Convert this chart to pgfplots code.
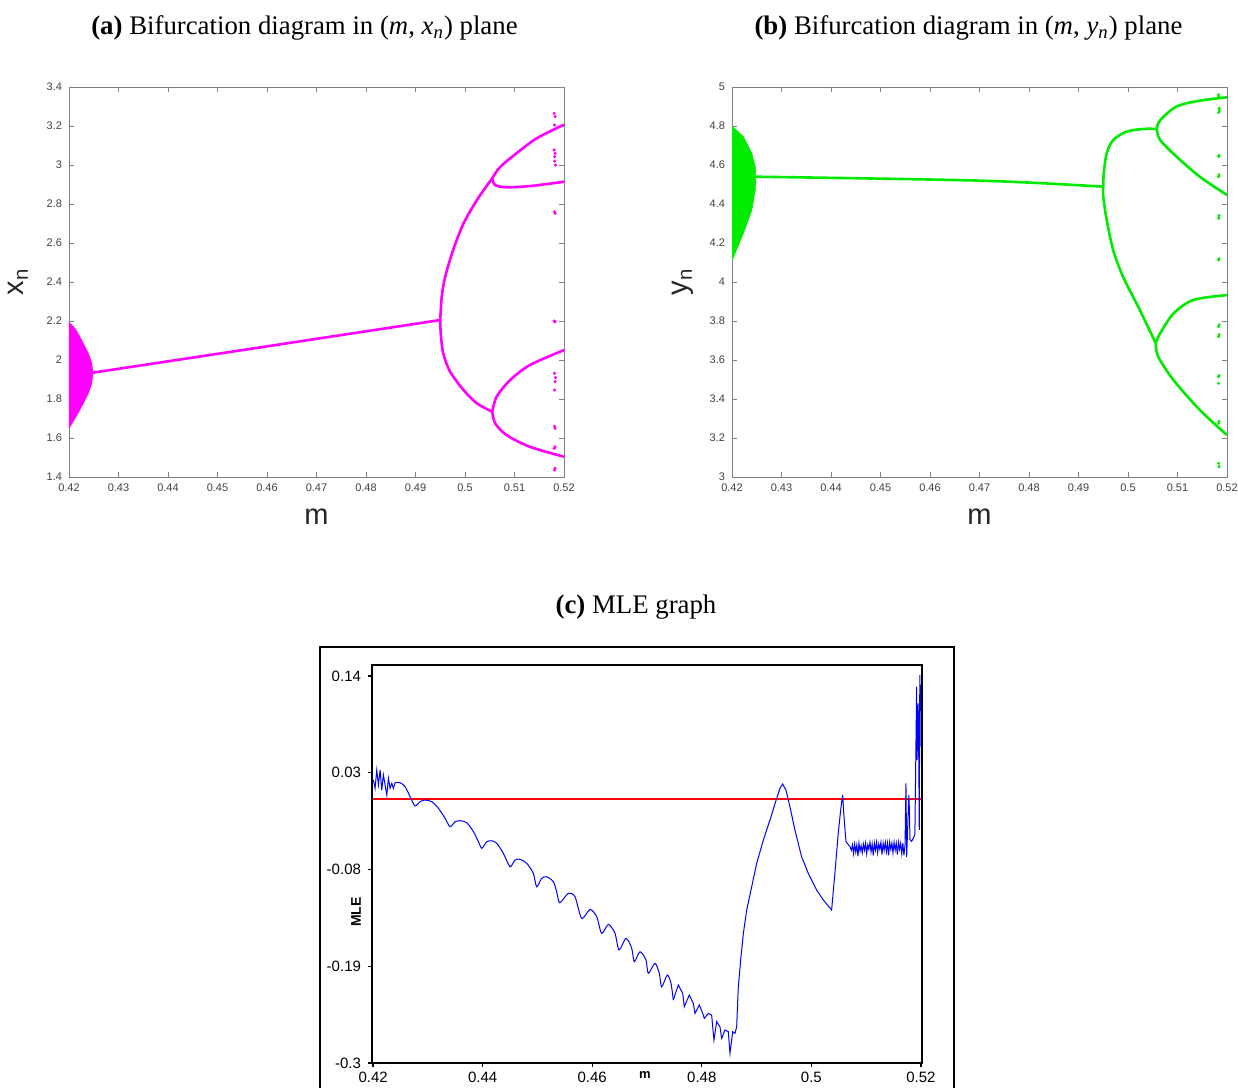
\documentclass[border=0pt]{standalone}
\usepackage{pgfplots}
\pgfplotsset{compat=1.18}
\usepackage{fontspec}
\setmainfont{Liberation Serif}
\newfontfamily\helv{Liberation Sans}
\definecolor{mag}{RGB}{255,0,255}
\definecolor{grn}{RGB}{0,235,0}
\definecolor{mlered}{RGB}{255,0,0}
\definecolor{mleblue}{RGB}{0,0,255}
\pgfplotsset{
  topax/.style={
    scale only axis, width=247.5pt, height=195pt, anchor=south west,
    xmin=0.42, xmax=0.52,
    xtick={0.42,0.43,0.44,0.45,0.46,0.47,0.48,0.49,0.5,0.51,0.52},
    xticklabels={0.42,0.43,0.44,0.45,0.46,0.47,0.48,0.49,0.5,0.51,0.52},
    axis line style={black!50, line width=0.4pt},
    tick style={black!50, line width=0.4pt},
    major tick length=2.5pt,
    /pgf/number format/assume math mode=true,
    tick label style={font=\helv\fontsize{5.5}{6}\selectfont, text=black!75},
    label style={font=\helv\fontsize{14.5}{16}\selectfont, text=black!85},
    xlabel style={at={(axis description cs:0.5,-0.103)}, anchor=center},
    ylabel style={at={(axis description cs:-0.103,0.5)}, anchor=center, rotate=0},
    clip=true,
  }
}
\begin{document}
\begin{tikzpicture}
\path[use as bounding box] (0,0) rectangle (619pt,-544pt);

\node[font=\fontsize{13.4}{15}\selectfont] at (152.25pt,-14pt) {\textbf{(a)} Bifurcation diagram in (\textit{m}, \textit{x}\textsubscript{\textit{n}}) plane};
\node[font=\fontsize{13.4}{15}\selectfont] at (484.25pt,-14pt) {\textbf{(b)} Bifurcation diagram in (\textit{m}, \textit{y}\textsubscript{\textit{n}}) plane};
\node[font=\fontsize{13.4}{15}\selectfont] at (318pt,-303.5pt) {\textbf{(c)} MLE graph};

% ---------- (a)
\begin{axis}[topax, at={(34.5pt,-238.5pt)},
  ymin=1.4, ymax=3.4,
  ytick={1.4,1.6,1.8,2,2.2,2.4,2.6,2.8,3,3.2,3.4},
  yticklabels={1.4,1.6,1.8,2,2.2,2.4,2.6,2.8,3,3.2,3.4},
  xlabel={m}, ylabel={x\textsubscript{n}}]
\addplot[fill=mag, draw=mag, line width=0.3pt] coordinates {
(0.42,2.193) (0.4212,2.162) (0.4222,2.119) (0.4239,2.034) (0.4246,1.983) (0.4248,1.935)
(0.4246,1.88) (0.4239,1.829) (0.4222,1.744) (0.4212,1.70) (0.42,1.65)};
\addplot[mag, line width=1.3pt] coordinates {(0.4248,1.935) (0.46,2.07) (0.495,2.205)};
\addplot[mag, line width=1.3pt, smooth] coordinates {(0.495,2.205) (0.4953,2.325) (0.4960,2.427) (0.4976,2.564) (0.4997,2.70) (0.5024,2.82) (0.5055,2.932)};
\addplot[mag, line width=1.3pt, smooth] coordinates {(0.5055,2.932) (0.5071,2.99) (0.5104,3.06) (0.5145,3.137) (0.52,3.207)};
\addplot[mag, line width=1.3pt, smooth] coordinates {(0.5055,2.932) (0.5061,2.897) (0.5084,2.886) (0.5131,2.892) (0.52,2.914)};
\addplot[mag, line width=1.3pt, smooth] coordinates {(0.495,2.205) (0.4951,2.137) (0.4956,2.034) (0.4970,1.94) (0.4997,1.846) (0.5024,1.778) (0.5055,1.735)};
\addplot[mag, line width=1.3pt, smooth] coordinates {(0.5055,1.735) (0.5064,1.812) (0.5091,1.897) (0.5131,1.974) (0.52,2.051)};
\addplot[mag, line width=1.3pt, smooth] coordinates {(0.5055,1.735) (0.5061,1.675) (0.5084,1.615) (0.5131,1.555) (0.52,1.504)};
\addplot[mag, only marks, mark=*, mark size=0.55pt] coordinates {
(0.5180,3.265)(0.5182,3.248)(0.5181,3.205)(0.5180,3.077)(0.5182,3.06)(0.5181,3.043)(0.5183,3.0)(0.5181,3.02)
(0.5182,2.752)(0.5181,2.76)(0.5182,2.196)(0.5180,2.20)(0.5181,1.932)(0.5183,1.91)(0.5182,1.889)(0.5181,1.846)
(0.5182,1.65)(0.5181,1.66)(0.5180,1.547)(0.5182,1.555)(0.5181,1.436)(0.5182,1.445)};
\end{axis}

% ---------- (b)
\begin{axis}[topax, at={(366pt,-238.5pt)},
  ymin=3, ymax=5,
  ytick={3,3.2,3.4,3.6,3.8,4,4.2,4.4,4.6,4.8,5},
  yticklabels={3,3.2,3.4,3.6,3.8,4,4.2,4.4,4.6,4.8,5},
  xlabel={m}, ylabel={y\textsubscript{n}},
  ylabel style={at={(axis description cs:-0.099,0.5)}}]
\addplot[fill=grn, draw=grn, line width=0.3pt] coordinates {
(0.42,4.80) (0.4223,4.745) (0.4240,4.66) (0.4247,4.59) (0.4248,4.54)
(0.4247,4.472) (0.4240,4.369) (0.4223,4.25) (0.42,4.109)};
\addplot[grn, line width=1.3pt, smooth] coordinates {(0.4248,4.54) (0.47,4.52) (0.495,4.489)};
\addplot[grn, line width=1.3pt, smooth] coordinates {(0.495,4.489) (0.4951,4.557) (0.4957,4.66) (0.4970,4.728) (0.4997,4.771) (0.5031,4.785) (0.5058,4.785)};
\addplot[grn, line width=1.3pt, smooth] coordinates {(0.5058,4.785) (0.5065,4.83) (0.5098,4.90) (0.5145,4.93) (0.52,4.947)};
\addplot[grn, line width=1.3pt, smooth] coordinates {(0.5058,4.785) (0.5065,4.728) (0.5098,4.643) (0.5145,4.54) (0.52,4.446)};
\addplot[grn, line width=1.3pt, smooth] coordinates {(0.495,4.489) (0.4950,4.437) (0.4957,4.318) (0.4970,4.164) (0.4990,4.027) (0.5024,3.856) (0.5056,3.686)};
\addplot[grn, line width=1.3pt, smooth] coordinates {(0.5056,3.686) (0.5065,3.737) (0.5092,3.839) (0.5132,3.908) (0.52,3.933)};
\addplot[grn, line width=1.3pt, smooth] coordinates {(0.5056,3.686) (0.5061,3.617) (0.5092,3.497) (0.5145,3.344) (0.52,3.215)};
\addplot[grn, only marks, mark=*, mark size=0.55pt] coordinates {
(0.5183,4.95)(0.5183,4.96)(0.5184,4.89)(0.5183,4.87)(0.5185,4.88)(0.5183,4.643)(0.5184,4.65)(0.5183,4.54)(0.5184,4.55)
(0.5183,4.327)(0.5184,4.34)(0.5183,4.113)(0.5184,4.12)(0.5183,3.771)(0.5184,3.78)(0.5183,3.72)(0.5184,3.73)
(0.5183,3.514)(0.5184,3.52)(0.5183,3.48)(0.5183,3.275)(0.5184,3.285)(0.5183,3.07)(0.5184,3.053)};
\end{axis}

% ---------- (c)
\draw[line width=0.6pt] (160pt,-544pt) -- (160pt,-323.5pt) -- (477pt,-323.5pt) -- (477pt,-544pt);
\begin{axis}[scale only axis, width=275pt, height=199pt, at={(186pt,-531.5pt)}, anchor=south west,
  xmin=0.4198, xmax=0.5202, ymin=-0.3, ymax=0.1525,
  xtick={0.42,0.44,0.46,0.48,0.5,0.52},
  xticklabels={0.42,0.44,0.46,0.48,0.5,0.52},
  ytick={-0.3,-0.19,-0.08,0.03,0.14},
  yticklabels={-0.3,-0.19,-0.08,0.03,0.14},
  tick pos=left, tick align=outside, major tick length=2pt,
  axis line style={black, line width=0.7pt}, tick style={black, line width=0.6pt},
  /pgf/number format/assume math mode=true,
  tick label style={font=\helv\fontsize{7.5}{8}\selectfont},
  xticklabel style={yshift=1pt},
  xlabel={m}, ylabel={MLE},
  xlabel style={font=\helv\bfseries\fontsize{6.5}{7}\selectfont, at={(axis description cs:0.496,-0.03)}, anchor=center},
  ylabel style={font=\helv\bfseries\fontsize{7}{8}\selectfont, at={(axis description cs:-0.029,0.379)}, anchor=center},
  clip=true]
\addplot[draw=mlered, line width=0.7pt] coordinates {(0.42,0) (0.52,0)};
\addplot[draw=mleblue, line width=0.5pt] coordinates {
(0.42006,0.0218)(0.42036,0.0123)(0.42067,0.0331)(0.42097,0.0161)(0.42128,0.0331)(0.42158,0.0104)
(0.42188,0.0274)(0.42219,0.0161)(0.42250,0.0047)(0.42280,0.0237)(0.42310,0.0123)(0.42341,0.0180)
(0.42370,0.0123)(0.42401,0.0187)};
\addplot[draw=mleblue, line width=0.5pt, smooth, tension=0.45] coordinates {
(0.42401,0.0187)(0.42493,0.0187)(0.42584,0.0142)(0.42675,0.0028)(0.42766,-0.0078)
(0.42858,-0.0029)(0.4295,-0.001)(0.43071,-0.0029)(0.43192,-0.0104)(0.43314,-0.0218)(0.43405,-0.0313)
(0.43496,-0.0257)(0.43588,-0.0245)(0.4371,-0.0268)(0.43832,-0.037)(0.43923,-0.0484)(0.43984,-0.0559)
(0.44075,-0.0484)(0.44166,-0.0473)(0.44257,-0.0502)(0.44378,-0.0616)(0.445,-0.0768)
(0.44591,-0.0692)(0.44682,-0.0684)(0.44805,-0.073)(0.44925,-0.0843)(0.44986,-0.0996)
(0.45078,-0.09)(0.4517,-0.0882)(0.4529,-0.0939)(0.4535,-0.105)(0.45407,-0.1178)
(0.45564,-0.107)(0.45686,-0.111)(0.45808,-0.1356)(0.4596,-0.1253)(0.46082,-0.1337)(0.46173,-0.1526)
(0.46295,-0.1424)(0.46416,-0.1526)(0.46489,-0.1715)(0.46617,-0.1582)(0.46721,-0.1696)(0.46768,-0.1848)
(0.46872,-0.1735)(0.46982,-0.183)(0.47024,-0.198)(0.47146,-0.1867)(0.47224,-0.198)(0.47268,-0.2133)
(0.47371,-0.2)(0.47438,-0.2094)(0.4748,-0.2284)};
\addplot[draw=mleblue, line width=0.5pt] coordinates {
(0.4748,-0.2284)(0.47571,-0.2113)(0.47652,-0.2208)(0.47681,-0.236)
(0.47772,-0.2227)(0.47845,-0.2322)(0.47876,-0.2436)(0.47955,-0.234)(0.48017,-0.2436)(0.48046,-0.2493)
(0.48119,-0.2436)(0.4818,-0.2455)(0.48222,-0.274)(0.48272,-0.253)(0.48332,-0.2588)(0.48363,-0.272)
(0.48423,-0.2625)(0.48484,-0.2644)(0.48515,-0.289)(0.48564,-0.2644)(0.48606,-0.2663)(0.48637,-0.2588)
(0.48667,-0.2133)(0.4871,-0.183)(0.48759,-0.1526)(0.4882,-0.126)(0.48911,-0.0996)(0.49002,-0.073)
(0.49124,-0.0465)(0.49245,-0.0237)(0.49367,0.0009)(0.49427,0.0123)(0.49476,0.0172)(0.49536,0.0104)
(0.49609,-0.0086)(0.497,-0.0351)(0.49822,-0.0655)(0.49944,-0.0843)(0.50096,-0.1033)(0.50218,-0.1147)
(0.5037,-0.126)(0.5043,-0.0843)(0.50491,-0.0388)(0.50535,-0.0124)(0.50571,0.0047)(0.50596,-0.02)
(0.50632,-0.0484)(0.50705,-0.054)
(0.5073,-0.058)(0.5075,-0.052)(0.5077,-0.062)(0.5079,-0.051)(0.5081,-0.060)(0.5083,-0.052)
(0.5085,-0.065)(0.5087,-0.050)(0.5089,-0.059)(0.5091,-0.053)(0.5093,-0.061)(0.5095,-0.051)
(0.5097,-0.058)(0.5099,-0.050)(0.5101,-0.062)(0.5103,-0.052)(0.5105,-0.057)(0.5107,-0.049)
(0.5109,-0.060)(0.5111,-0.051)(0.5113,-0.064)(0.5115,-0.050)(0.5117,-0.058)(0.5119,-0.049)
(0.5121,-0.061)(0.5123,-0.051)(0.5125,-0.057)(0.5127,-0.049)(0.5129,-0.063)(0.5131,-0.050)
(0.5133,-0.058)(0.5135,-0.049)(0.5137,-0.060)(0.5139,-0.050)(0.5141,-0.064)(0.5143,-0.049)
(0.5145,-0.057)(0.5147,-0.050)(0.5149,-0.061)(0.5151,-0.049)(0.5153,-0.058)(0.5155,-0.050)
(0.5157,-0.063)(0.5159,-0.049)(0.5161,-0.057)(0.5163,-0.050)(0.5165,-0.062)(0.5167,-0.050)
(0.5169,-0.064)(0.5171,-0.052)(0.51727,0.018)(0.5174,-0.0655)(0.5176,-0.030)(0.5178,0.0047)
(0.5179,-0.0124)(0.5180,-0.046)(0.5183,-0.048)(0.5186,-0.0446)(0.5189,-0.040)(0.51922,0.1278)
(0.5193,0.0445)(0.5195,0.109)(0.51963,0.0331)(0.5197,-0.035)(0.5198,0.141)(0.51985,0.06)(0.5199,0.13)};
\end{axis}
\end{tikzpicture}
\end{document}
